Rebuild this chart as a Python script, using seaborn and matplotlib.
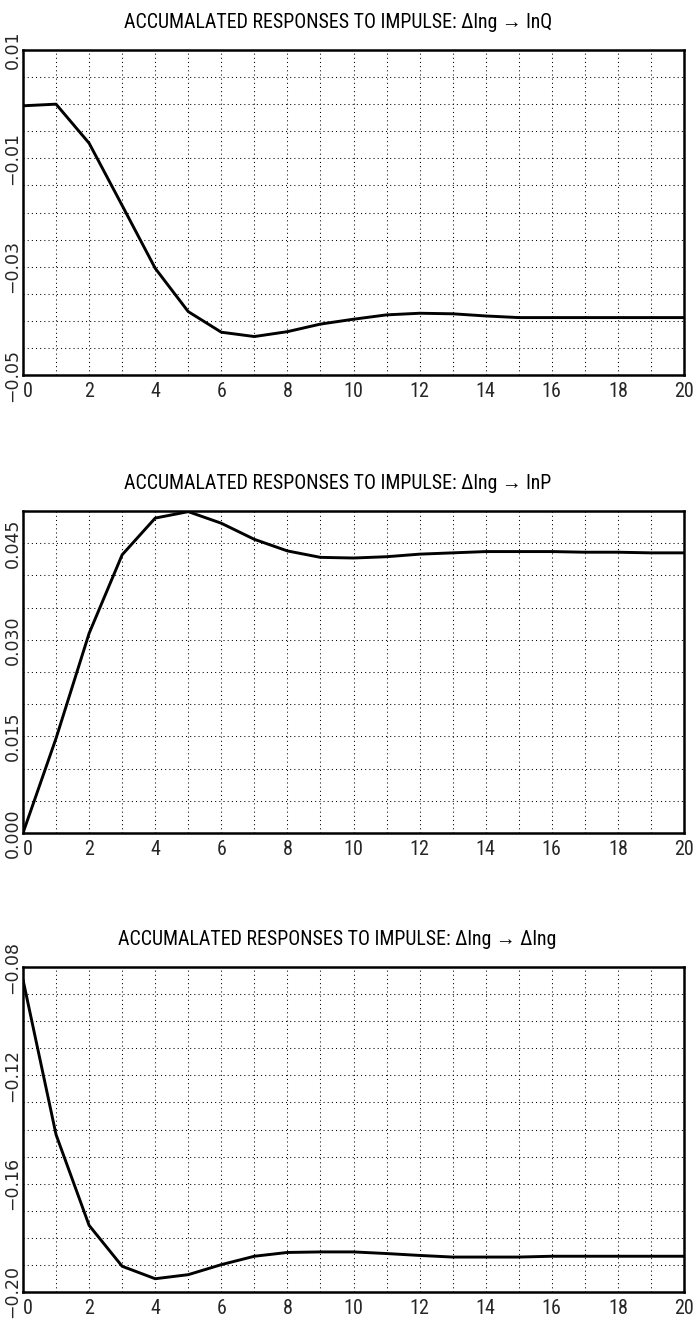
#importing packages
import numpy as np
import pandas as pd
import matplotlib
matplotlib.use('Agg')
import matplotlib.pyplot as plt
from matplotlib.ticker import MultipleLocator
import seaborn as sns

sns.set_theme(style='white')
plt.rcParams['font.family'] = ['Liberation Sans Narrow', 'DejaVu Sans Condensed', 'Roboto Condensed',
                               'Liberation Sans', 'DejaVu Sans']
plt.rcParams['font.stretch'] = 'condensed'

#accumulated impulse responses, horizon 0..20
horizon = list(range(0, 21))
resp_lnQ = [-0.0003, 0.0000, -0.0072, -0.0187, -0.0303, -0.0383, -0.0421, -0.0429, -0.0420, -0.0406,
            -0.0397, -0.0389, -0.0386, -0.0387, -0.0391, -0.0394, -0.0394, -0.0394, -0.0394, -0.0394, -0.0394]
resp_lnP = [0.0000, 0.0147, 0.0310, 0.0432, 0.0489, 0.0499, 0.0481, 0.0456, 0.0438, 0.0428,
            0.0427, 0.0429, 0.0433, 0.0435, 0.0437, 0.0437, 0.0437, 0.0436, 0.0436, 0.0435, 0.0435]
resp_dlng = [-0.0847, -0.1419, -0.1754, -0.1905, -0.1951, -0.1936, -0.1899, -0.1868, -0.1854, -0.1852,
             -0.1852, -0.1858, -0.1865, -0.1871, -0.1871, -0.1871, -0.1868, -0.1868, -0.1868, -0.1868, -0.1868]

titles = ['ACCUMALATED RESPONSES TO IMPULSE: \u0394lng \u2192 lnQ',
          'ACCUMALATED RESPONSES TO IMPULSE: \u0394lng \u2192 lnP',
          'ACCUMALATED RESPONSES TO IMPULSE: \u0394lng \u2192 \u0394lng']

#y axis settings for each panel
y_limits = [(-0.05, 0.01), (0.0, 0.05), (-0.20, -0.08)]
y_ticks = [[0.01, -0.01, -0.03, -0.05], [0.000, 0.015, 0.030, 0.045], [-0.08, -0.12, -0.16, -0.20]]
y_ticklabels = [['0.01', '\u22120.01', '\u22120.03', '\u22120.05'],
                ['0.000', '0.015', '0.030', '0.045'],
                ['\u22120.08', '\u22120.12', '\u22120.16', '\u22120.20']]
y_grid_step = [0.005, 0.005, 0.01]
x_ticks = [0, 2, 4, 6, 8, 10, 12, 14, 16, 18, 20]

# dataframe with all three responses
df = pd.DataFrame({'horizon': horizon, 'lnQ': resp_lnQ, 'lnP': resp_lnP, 'dlng': resp_dlng})
series = ['lnQ', 'lnP', 'dlng']

fig = plt.figure(figsize=(6.93, 13.19), dpi=100)

# axes placed in pixel fractions of the 693x1319 page
W, H = 693.0, 1319.0
boxes = [(23, 50, 684, 375), (23, 511, 684, 833), (23, 967, 684, 1292)]

for i in range(3):
    l, t, r, b = boxes[i]
    ax = fig.add_axes([l / W, (H - b) / H, (r - l) / W, (b - t) / H])
    sns.lineplot(x='horizon', y=series[i], data=df, ax=ax, color='black', linewidth=2.1)

    ax.set_xlim(0, 20)
    ax.set_ylim(*y_limits[i])

    # x ticks every 2, grid every 1
    ax.xaxis.set_minor_locator(MultipleLocator(1))
    ax.set_xticks(x_ticks)
    ax.set_xticklabels([str(v) for v in x_ticks], fontsize=14.5)
    # first label sits just right of the corner like the original
    ax.get_xticklabels()[0].set_ha('left')

    # y ticks only at labelled values, grid at every step
    ax.yaxis.set_minor_locator(MultipleLocator(y_grid_step[i]))
    ax.set_yticks(y_ticks[i])
    ax.set_yticklabels(y_ticklabels[i], rotation=90, fontsize=12.5,
                       family=['DejaVu Sans'], stretch='normal', va='center')

    ax.grid(True, which='both', color='black', linestyle=(0, (1, 3)), linewidth=0.75)
    ax.tick_params(axis='both', which='both', length=0)
    ax.tick_params(axis='x', pad=5)
    ax.tick_params(axis='y', pad=1)

    for side in ['top', 'bottom', 'left', 'right']:
        ax.spines[side].set_visible(True)
        ax.spines[side].set_color('black')
        ax.spines[side].set_linewidth(1.8)

    ax.set_xlabel('')
    ax.set_ylabel('')
    ax.set_title(titles[i], fontsize=14.3, x=0.476, pad=16, color='black')

plt.savefig('out.png', dpi=100, facecolor='white')
